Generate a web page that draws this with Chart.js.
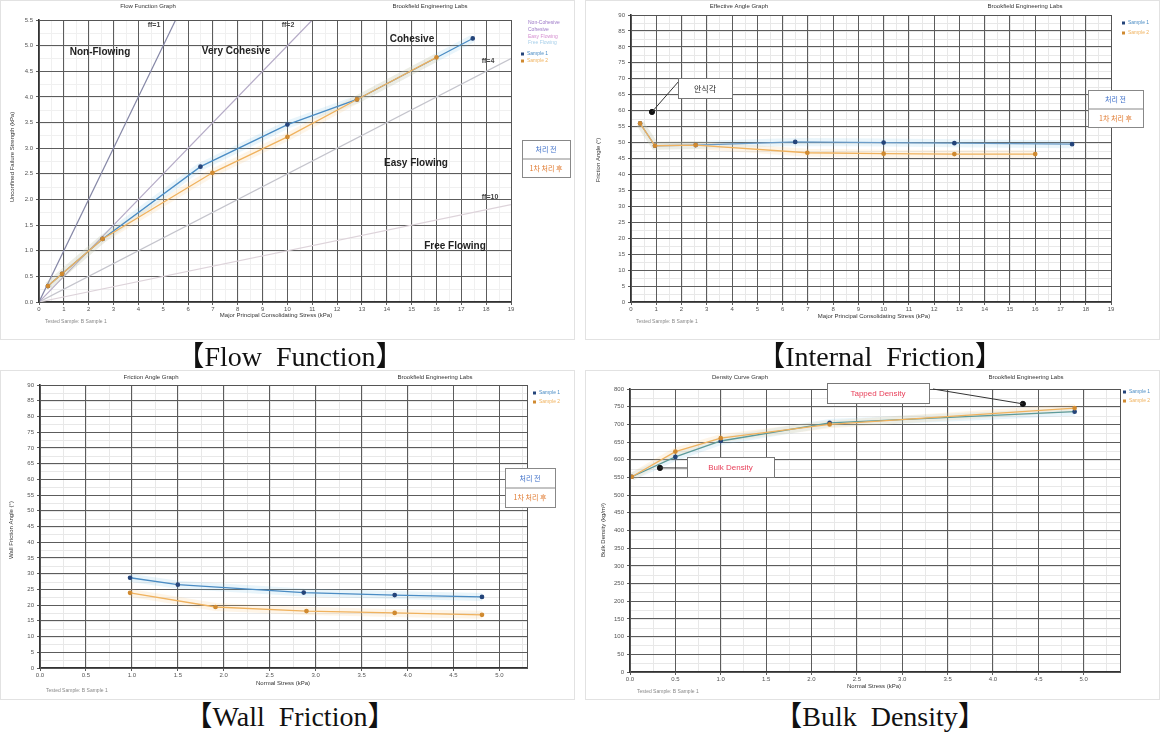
<!DOCTYPE html>
<html><head><meta charset="utf-8">
<script src="https://cdn.jsdelivr.net/npm/chart.js@4.4.1/dist/chart.umd.min.js"></script>
<style>
body{margin:0;background:#fff;width:1165px;height:739px;position:relative;overflow:hidden;}
canvas{position:absolute;}
.cap{position:absolute;font-family:"Liberation Serif","Noto Sans CJK KR",serif;font-size:28px;color:#111;white-space:pre;transform:translateX(-50%);line-height:1;}
</style></head><body>
<canvas id="c1" width="580" height="340" style="left:0;top:0"></canvas>
<canvas id="c2" width="580" height="340" style="left:585px;top:0"></canvas>
<canvas id="c3" width="580" height="330" style="left:0;top:370px"></canvas>
<canvas id="c4" width="580" height="330" style="left:585px;top:370px"></canvas>
<div class="cap" style="left:290px;top:343px">【Flow  Function】</div>
<div class="cap" style="left:880px;top:343px">【Internal  Friction】</div>
<div class="cap" style="left:290px;top:703px">【Wall  Friction】</div>
<div class="cap" style="left:880px;top:703px">【Bulk  Density】</div>
<script>
// ---------- DATA ----------
// Flow Function
const ffStressBlue = [0.36, 0.93, 2.56, 6.5, 10.0, 12.8, 17.46];
const ffStrengthBlue = [0.31, 0.55, 1.23, 2.64, 3.46, 3.95, 5.14];
const ffStressOrange = [0.36, 0.93, 2.56, 6.98, 10.0, 12.8, 16.0];
const ffStrengthOrange = [0.31, 0.55, 1.23, 2.52, 3.22, 3.95, 4.77];
const ffcLabels = ['ff=1', 'ff=2', 'ff=4', 'ff=10'];
const ffcLineX = [[0, 5.5], [0, 11], [0, 19], [0, 19]];
const ffcLineY = [[0, 5.5], [0, 5.5], [0, 4.75], [0, 1.9]];
const flowRegions = ['Non-Flowing', 'Very Cohesive', 'Cohesive', 'Easy Flowing', 'Free Flowing'];
// Internal Friction
const ifStressBlue = [0.36, 0.95, 2.56, 6.5, 10.0, 12.8, 17.46];
const ifAngleBlue = [56.0, 49.0, 49.2, 50.2, 50.0, 49.8, 49.5];
const ifStressOrange = [0.36, 0.95, 2.56, 6.98, 10.0, 12.8, 16.0];
const ifAngleOrange = [56.0, 49.0, 49.2, 46.8, 46.5, 46.4, 46.4];
const reposeStress = [0.83];
const reposeAngle = [59.6];
// Wall Friction
const wfStressBlue = [0.98, 1.5, 2.87, 3.86, 4.81];
const wfAngleBlue = [28.7, 26.5, 24.0, 23.2, 22.6];
const wfStressOrange = [0.98, 1.91, 2.9, 3.86, 4.81];
const wfAngleOrange = [23.9, 19.4, 18.1, 17.5, 16.9];
// Bulk Density
const bdStressBlue = [0.02, 0.5, 1.0, 2.2, 4.9];
const bdDensityBlue = [552, 608, 653, 704, 736];
const bdStressOrange = [0.02, 0.5, 1.0, 2.2, 4.9];
const bdDensityOrange = [552, 623, 661, 700, 746];
const tappedStress = [4.33], tappedDensity = [758];
const looseStress = [0.33], looseDensity = [577];
// legend texts
const seriesNames = ['Sample 1', 'Sample 2'];
const boxNames = ['처리 전', '1차 처리 후'];

// ---------- HELPERS ----------
const BLUE = '#4a8cc4', BLUE_PT = '#24447a', BLUE_HALO = 'rgba(120,190,230,0.16)';
const ORNG = '#f0b25e', ORNG_PT = '#d08a30', ORNG_HALO = 'rgba(250,200,130,0.18)';
const FAM = '"Liberation Sans", Arial, sans-serif';
function font(sz, bold){ return (bold ? 'bold ' : '') + sz + 'px ' + FAM; }
function xy(xs, ys){ return xs.map((x, i) => ({x: x, y: ys[i]})); }
function series(xs, ys, color, halo, pt, label){
  return [
    {label: label + ' halo', data: xy(xs, ys), showLine: true, borderColor: halo, borderWidth: 8, pointRadius: 0, order: 3},
    {label: label, data: xy(xs, ys), showLine: true, borderColor: color, borderWidth: 1.3, pointRadius: 1.7,
     pointBackgroundColor: pt, pointBorderColor: pt, order: 1}
  ];
}
function T(ctx, s, x, y, o){
  o = o || {};
  ctx.save();
  ctx.font = o.font || font(6);
  ctx.fillStyle = o.color || '#333';
  ctx.textAlign = o.align || 'center';
  ctx.textBaseline = 'middle';
  if (o.rot){ ctx.translate(x, y); ctx.rotate(-Math.PI / 2); ctx.fillText(s, 0, 0); }
  else ctx.fillText(s, x, y);
  ctx.restore();
}
function lin(min, max, step, fmt, fit, isX){
  return {
    type: 'linear', min: min, max: max,
    ticks: {stepSize: step, includeBounds: false, autoSkip: false, maxRotation: 0,
      font: {size: 6, family: 'Liberation Sans'}, color: '#555', padding: isX ? 1 : 3,
      callback: v => fmt(v)},
    grid: {color: '#5c5c5c', lineWidth: 1, tickLength: 3},
    border: {color: '#333', width: 1.6},
    afterFit(s){ if (isX) s.height = fit; else s.width = fit; }
  };
}
function minorGrid(c, mx, my, col){
  const ctx = c.ctx, a = c.chartArea, sx = c.scales.x, sy = c.scales.y;
  ctx.save();
  ctx.strokeStyle = col; ctx.lineWidth = 1;
  ctx.beginPath();
  for (let v = sx.min; v <= sx.max + 1e-9; v += mx){
    const p = Math.round(sx.getPixelForValue(v)) + 0.5;
    ctx.moveTo(p, a.top); ctx.lineTo(p, a.bottom);
  }
  for (let v = sy.min; v <= sy.max + 1e-9; v += my){
    const p = Math.round(sy.getPixelForValue(v)) + 0.5;
    ctx.moveTo(a.left, p); ctx.lineTo(a.right, p);
  }
  ctx.stroke();
  ctx.restore();
}
function frame(c){
  const ctx = c.ctx, a = c.chartArea;
  ctx.save(); ctx.strokeStyle = '#555'; ctx.lineWidth = 1;
  ctx.strokeRect(a.left + 0.5, a.top + 0.5, a.right - a.left, a.bottom - a.top);
  ctx.strokeStyle = '#e2e2e2';
  ctx.strokeRect(0.5, 0.5, c.width - 6, c.height - 1);
  ctx.restore();
}
function topLegend(ctx, x, y1, y2){
  ctx.save();
  ctx.fillStyle = BLUE_PT; ctx.fillRect(x, y1 - 1.5, 3, 3);
  ctx.fillStyle = ORNG_PT; ctx.fillRect(x, y2 - 1.5, 3, 3);
  ctx.restore();
  T(ctx, seriesNames[0], x + 6, y1, {color: BLUE, align: 'left', font: font(5)});
  T(ctx, seriesNames[1], x + 6, y2, {color: ORNG, align: 'left', font: font(5)});
}
function boxLegend(ctx, x, y, w, h){
  ctx.save();
  ctx.fillStyle = '#fff'; ctx.fillRect(x, y, w, h);
  ctx.strokeStyle = '#888'; ctx.lineWidth = 1;
  ctx.strokeRect(x + 0.5, y + 0.5, w, h);
  ctx.beginPath(); ctx.moveTo(x, y + h / 2 + 0.5); ctx.lineTo(x + w, y + h / 2 + 0.5); ctx.stroke();
  ctx.restore();
  const f = '7px "Noto Sans CJK KR", sans-serif';
  T(ctx, boxNames[0], x + w / 2, y + h / 4 + 0.5, {color: '#3c6ec8', font: f});
  T(ctx, boxNames[1], x + w / 2, y + 3 * h / 4 + 0.5, {color: '#e07a30', font: f});
}
function noteBox(ctx, s, x, y, w, h, color, f){
  ctx.save();
  ctx.fillStyle = '#fff'; ctx.fillRect(x, y, w, h);
  ctx.strokeStyle = '#777'; ctx.lineWidth = 1; ctx.strokeRect(x + 0.5, y + 0.5, w, h);
  ctx.restore();
  T(ctx, s, x + w / 2, y + h / 2 + 0.5, {color: color, font: f});
}
function connector(c, x0, y0, vx, vy){
  const ctx = c.ctx;
  const px = c.scales.x.getPixelForValue(vx), py = c.scales.y.getPixelForValue(vy);
  ctx.save(); ctx.strokeStyle = '#333'; ctx.lineWidth = 1;
  ctx.beginPath(); ctx.moveTo(x0, y0); ctx.lineTo(px, py); ctx.stroke(); ctx.restore();
}
function make(id, datasets, xs, ys, pad, minor, deco){
  return new Chart(document.getElementById(id), {
    type: 'scatter', data: {datasets: datasets},
    options: {responsive: false, animation: false, devicePixelRatio: 1,
      layout: {padding: pad},
      plugins: {legend: {display: false}, tooltip: {enabled: false}},
      scales: {x: xs, y: ys}},
    plugins: [{id: 'deco',
      beforeDraw(c){ minorGrid(c, minor[0], minor[1], minor[2]); },
      afterDraw(c){ frame(c); deco(c, c.ctx); }}]
  });
}
const f1 = v => v.toFixed(1), f0 = v => String(v);

// ---------- CHART 1: Flow Function ----------
const ffColors = ['#8587a6', '#b4aac6', '#c4c4cc', '#ddd3da'];
const ds1 = [];
ffcLineX.forEach((xs, i) => ds1.push({label: ffcLabels[i], data: xy(xs, ffcLineY[i]), showLine: true,
  borderColor: ffColors[i], borderWidth: 1.2, pointRadius: 0, order: 4}));
ds1.push(...series(ffStressOrange, ffStrengthOrange, ORNG, ORNG_HALO, ORNG_PT, seriesNames[1]));
ds1.push(...series(ffStressBlue, ffStrengthBlue, BLUE, BLUE_HALO, BLUE_PT, seriesNames[0]));
make('c1', ds1, lin(0, 19, 1, f0, 38, true), lin(0, 5.5, 0.5, f1, 39, false),
  {left: 0, top: 20, right: 69, bottom: 0}, [0.5, 0.25, '#f0f0f0'], (c, ctx) => {
  T(ctx, 'Flow Function Graph', 148, 6);
  T(ctx, 'Brookfield Engineering Labs', 430, 6);
  T(ctx, 'Unconfined Failure Strength (kPa)', 12, 157, {rot: true});
  T(ctx, 'Major Principal Consolidating Stress (kPa)', 276, 315);
  T(ctx, 'Tested Sample: B Sample 1', 45, 322, {align: 'left', color: '#888', font: font(5)});
  const rf = font(10, true);
  T(ctx, flowRegions[0], 100, 52, {font: rf, color: '#222'});
  T(ctx, flowRegions[1], 236, 51, {font: rf, color: '#222'});
  T(ctx, flowRegions[2], 412, 39, {font: rf, color: '#222'});
  T(ctx, flowRegions[3], 416, 163, {font: rf, color: '#222'});
  T(ctx, flowRegions[4], 455, 246, {font: rf, color: '#222'});
  const lf = font(7, true);
  T(ctx, ffcLabels[0], 154, 25, {font: lf, color: '#444'});
  T(ctx, ffcLabels[1], 288, 25, {font: lf, color: '#444'});
  T(ctx, ffcLabels[2], 488, 61, {font: lf, color: '#444'});
  T(ctx, ffcLabels[3], 490, 197, {font: lf, color: '#444'});
  T(ctx, 'Non-Cohesive', 528, 23, {align: 'left', color: '#9b77c6', font: font(5)});
  T(ctx, 'Cohesive', 528, 30, {align: 'left', color: '#9b77c6', font: font(5)});
  T(ctx, 'Easy Flowing', 528, 37, {align: 'left', color: '#d58fd0', font: font(5)});
  T(ctx, 'Free Flowing', 528, 43, {align: 'left', color: '#a9d0ea', font: font(5)});
  topLegend(ctx, 521, 54, 61);
  boxLegend(ctx, 522, 140, 48, 37);
});

// ---------- CHART 2: Internal Friction ----------
const ds2 = [{label: 'Angle of repose', data: xy(reposeStress, reposeAngle), pointRadius: 2.6,
  pointBackgroundColor: '#111', pointBorderColor: '#111', order: 0}];
ds2.push(...series(ifStressOrange, ifAngleOrange, ORNG, ORNG_HALO, ORNG_PT, seriesNames[1]));
ds2.push(...series(ifStressBlue, ifAngleBlue, '#6a9cc8', BLUE_HALO, BLUE_PT, seriesNames[0]));
make('c2', ds2, lin(0, 19, 1, f0, 38, true), lin(0, 90, 5, f0, 46, false),
  {left: 0, top: 15, right: 54, bottom: 0}, [0.5, 2.5, '#e8e8e8'], (c, ctx) => {
  T(ctx, 'Effective Angle Graph', 154, 6);
  T(ctx, 'Brookfield Engineering Labs', 440, 6);
  T(ctx, 'Friction Angle (°)', 13, 160, {rot: true});
  T(ctx, 'Major Principal Consolidating Stress (kPa)', 289, 316);
  T(ctx, 'Tested Sample: B Sample 1', 51, 322, {align: 'left', color: '#888', font: font(5)});
  connector(c, 94, 81, reposeStress[0], reposeAngle[0]);
  noteBox(ctx, '안식각', 93, 78, 54, 20, '#222', '8px "Noto Sans CJK KR", sans-serif');
  topLegend(ctx, 537, 23, 33);
  boxLegend(ctx, 503, 90, 55, 37);
});

// ---------- CHART 3: Wall Friction ----------
const ds3 = [];
ds3.push(...series(wfStressOrange, wfAngleOrange, ORNG, ORNG_HALO, ORNG_PT, seriesNames[1]));
ds3.push(...series(wfStressBlue, wfAngleBlue, BLUE, BLUE_HALO, BLUE_PT, seriesNames[0]));
make('c3', ds3, lin(0, 5.3, 0.5, f1, 32, true), lin(0, 90, 5, f0, 40, false),
  {left: 0, top: 15, right: 53, bottom: 0}, [0.25, 2.5, '#e8e8e8'], (c, ctx) => {
  T(ctx, 'Friction Angle Graph', 151, 7);
  T(ctx, 'Brookfield Engineering Labs', 435, 7);
  T(ctx, 'Wall Friction Angle (°)', 11, 160, {rot: true});
  T(ctx, 'Normal Stress (kPa)', 283, 313);
  T(ctx, 'Tested Sample: B Sample 1', 46, 321, {align: 'left', color: '#888', font: font(5)});
  topLegend(ctx, 533, 23, 32);
  boxLegend(ctx, 505, 98, 50, 39);
});

// ---------- CHART 4: Bulk Density ----------
const ds4 = [
  {label: 'Tapped Density', data: xy(tappedStress, tappedDensity), pointRadius: 2.6, pointBackgroundColor: '#111', pointBorderColor: '#111', order: 0},
  {label: 'Bulk Density', data: xy(looseStress, looseDensity), pointRadius: 2.6, pointBackgroundColor: '#111', pointBorderColor: '#111', order: 0}
];
ds4.push(...series(bdStressOrange, bdDensityOrange, ORNG, ORNG_HALO, ORNG_PT, seriesNames[1]));
ds4.push(...series(bdStressBlue, bdDensityBlue, '#5c9a9a', BLUE_HALO, BLUE_PT, seriesNames[0]));
make('c4', ds4, lin(0, 5.4, 0.5, f1, 28, true), lin(0, 800, 50, f0, 45, false),
  {left: 0, top: 19, right: 45, bottom: 0}, [0.25, 25, '#e8e8e8'], (c, ctx) => {
  T(ctx, 'Density Curve Graph', 155, 7);
  T(ctx, 'Brookfield Engineering Labs', 441, 7);
  T(ctx, 'Bulk Density (kg/m³)', 18, 160, {rot: true});
  T(ctx, 'Normal Stress (kPa)', 289, 316);
  T(ctx, 'Tested Sample: B Sample 1', 52, 322, {align: 'left', color: '#888', font: font(5)});
  connector(c, 348, 19, tappedStress[0], tappedDensity[0]);
  connector(c, 102, 98, looseStress[0], looseDensity[0]);
  noteBox(ctx, 'Tapped Density', 242, 13, 102, 20, '#e8405a', font(8));
  noteBox(ctx, 'Bulk Density', 102, 87, 87, 20, '#e8405a', font(8));
  topLegend(ctx, 538, 22, 31);
});
</script>
</body></html>
